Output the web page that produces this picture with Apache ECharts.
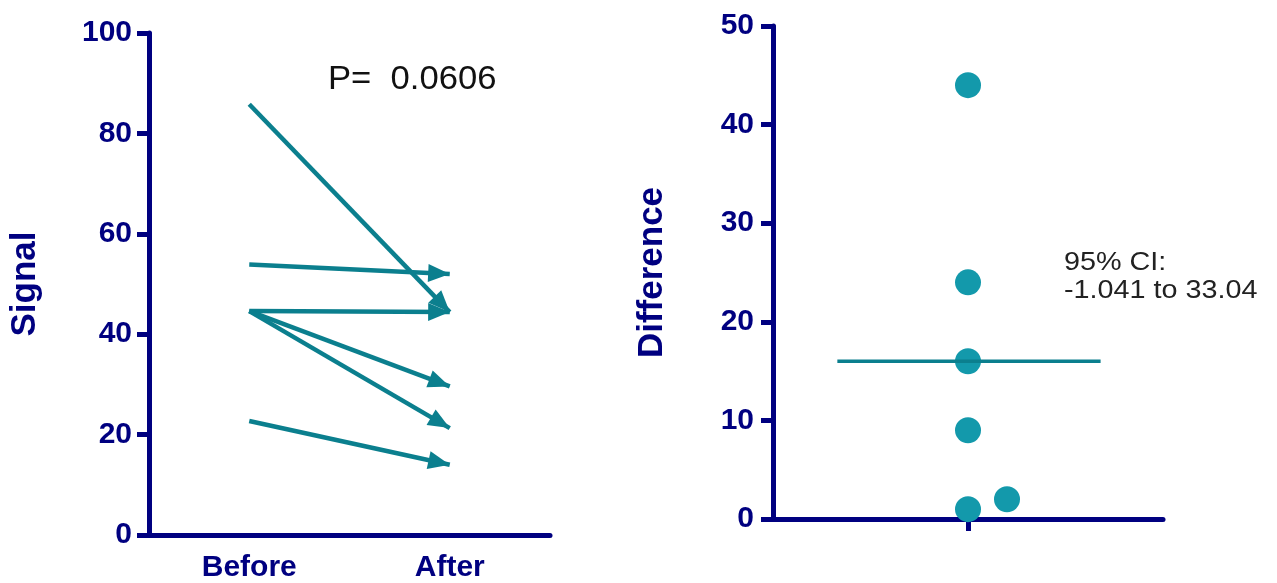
<!DOCTYPE html>
<html>
<head>
<meta charset="utf-8">
<script src="https://cdn.jsdelivr.net/npm/echarts@6/dist/echarts.min.js"></script>
<style>
html,body{margin:0;padding:0;background:#fff;}
#chart{width:1277px;height:583px;}
</style>
</head>
<body>
<div id="chart"></div>
<script>
// ---- data ----
const categories = ['Before', 'After'];
const beforeValues = [85.8, 53.9, 44.6, 44.6, 44.6, 22.7];
const afterValues  = [44.4, 52.0, 44.4, 29.6, 21.3, 14.0];
const signalTicks = [0, 20, 40, 60, 80, 100];
const differences = [44, 24, 16, 9, 1, 2];
const diffJitter  = [0.5, 0.5, 0.5, 0.5, 0.5, 0.6];
const diffCategory = ['Difference'];
const diffTicks = [0, 10, 20, 30, 40, 50];
const meanSpan = [0.165, 0.84];
const pValueText = 'P=  0.0606';
const ciLines = ['95% CI:', '-1.041 to 33.04'];

// ---- styles ----
const NAVY = '#000080';
const TEAL_LINE = '#0b7f8e';
const TEAL_DOT = '#1399ab';
const FONT = '"Liberation Sans", Arial, sans-serif';
// filled triangle whose tip sits at the centre of a 40x40 symbol box (rest empty)
const ARROW_PATH = 'path://M0,0 M40,0 M20,20 L27.5,38 L12.5,38 Z M20,40';

const meanDiff = differences.reduce((a, b) => a + b, 0) / differences.length;

const axisLineStyle = { lineStyle: { color: NAVY, width: 5 } };
const axisTickStyle = { length: 12, lineStyle: { color: NAVY, width: 5 } };
const labelStyle = { color: NAVY, fontFamily: FONT, fontWeight: 'bold', fontSize: 30 };

const chart = echarts.init(document.getElementById('chart'), null, { renderer: 'canvas' });

const option = {
  backgroundColor: '#ffffff',
  animation: false,
  grid: [
    { left: 149, right: 1277 - 550, top: 33, bottom: 583 - 537.5, containLabel: false },
    { left: 773, right: 1277 - 1163, top: 26, bottom: 583 - 519, containLabel: false }
  ],
  xAxis: [
    {
      gridIndex: 0, type: 'category', data: categories, boundaryGap: true,
      axisLine: axisLineStyle,
      axisTick: Object.assign({ alignWithLabel: true }, axisTickStyle),
      axisLabel: Object.assign({ margin: 18 }, labelStyle),
      splitLine: { show: false }
    },
    {
      gridIndex: 1, type: 'category', data: diffCategory, boundaryGap: true,
      axisLine: axisLineStyle,
      axisTick: Object.assign({ show: true, alignWithLabel: true, interval: 0 }, axisTickStyle),
      axisLabel: { show: true, color: 'rgba(0,0,0,0)', fontSize: 12 },
      splitLine: { show: false }
    },
    {
      gridIndex: 1, type: 'value', min: 0, max: 1, show: false,
      splitLine: { show: false }
    }
  ],
  yAxis: [
    {
      gridIndex: 0, type: 'value',
      min: signalTicks[0], max: signalTicks[signalTicks.length - 1],
      interval: signalTicks[1] - signalTicks[0],
      name: 'Signal', nameLocation: 'middle', nameGap: 106,
      nameTextStyle: { color: NAVY, fontFamily: FONT, fontWeight: 'bold', fontSize: 35 },
      axisLine: Object.assign({ show: true }, axisLineStyle),
      axisTick: Object.assign({ show: true }, axisTickStyle),
      axisLabel: Object.assign({ margin: 17, padding: [0, 0, 8, 0] }, labelStyle),
      splitLine: { show: false }
    },
    {
      gridIndex: 1, type: 'value',
      min: diffTicks[0], max: diffTicks[diffTicks.length - 1],
      interval: diffTicks[1] - diffTicks[0],
      name: 'Difference', nameLocation: 'middle', nameGap: 103,
      nameTextStyle: { color: NAVY, fontFamily: FONT, fontWeight: 'bold', fontSize: 35 },
      axisLine: Object.assign({ show: true }, axisLineStyle),
      axisTick: Object.assign({ show: true }, axisTickStyle),
      axisLabel: Object.assign({ margin: 19, padding: [0, 0, 6, 0] }, labelStyle),
      splitLine: { show: false }
    }
  ],
  series: [
    {
      type: 'lines',
      coordinateSystem: 'cartesian2d',
      xAxisIndex: 0, yAxisIndex: 0,
      symbol: ['none', ARROW_PATH],
      symbolSize: [0, 48],
      lineStyle: { color: TEAL_LINE, width: 4.5, opacity: 1, curveness: 0 },
      itemStyle: { color: TEAL_LINE },
      silent: true,
      data: beforeValues.map((b, i) => ({ coords: [[0, b], [1, afterValues[i]]] }))
    },
    {
      type: 'scatter',
      xAxisIndex: 2, yAxisIndex: 1,
      symbol: 'circle', symbolSize: 26,
      itemStyle: { color: TEAL_DOT, opacity: 1 },
      z: 2,
      data: differences.map((d, i) => [diffJitter[i], d])
    },
    {
      type: 'line',
      xAxisIndex: 2, yAxisIndex: 1,
      symbol: 'none',
      lineStyle: { color: TEAL_LINE, width: 3.5 },
      z: 3,
      data: [[meanSpan[0], meanDiff], [meanSpan[1], meanDiff]]
    }
  ],
  graphic: [
    {
      type: 'text', x: 328, y: 80, scaleX: 1.05,
      style: { text: pValueText, fill: '#111', fontFamily: FONT, fontSize: 33, verticalAlign: 'middle', align: 'left' }
    },
    {
      type: 'text', x: 1064, y: 263, scaleX: 1.15,
      style: { text: ciLines[0], fill: '#222', fontFamily: FONT, fontSize: 25, verticalAlign: 'middle', align: 'left' }
    },
    {
      type: 'text', x: 1064, y: 291, scaleX: 1.15,
      style: { text: ciLines[1], fill: '#222', fontFamily: FONT, fontSize: 25, verticalAlign: 'middle', align: 'left' }
    }
  ]
};

chart.setOption(option);
</script>
</body>
</html>
